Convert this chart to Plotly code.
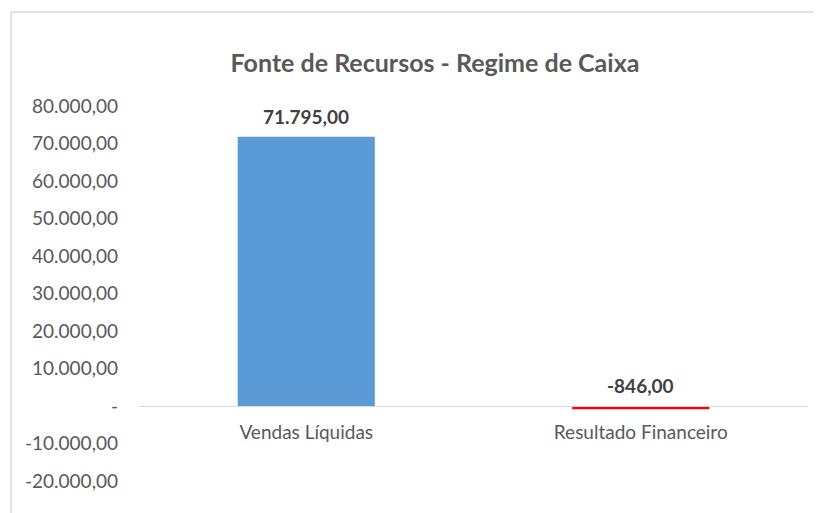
import plotly.graph_objects as go

categories = ["Vendas Líquidas", "Resultado Financeiro"]
values = [71795.00, -846.00]
bar_colors = ["#5B9BD5", "#FF0000"]
value_labels = ["71.795,00", "-846,00"]
tick_values = [-20000, -10000, 0, 10000, 20000, 30000, 40000, 50000, 60000, 70000, 80000]
tick_labels = ["-20.000,00", "-10.000,00", "-", "10.000,00", "20.000,00", "30.000,00",
               "40.000,00", "50.000,00", "60.000,00", "70.000,00", "80.000,00"]
title_text = "Fonte de Recursos - Regime de Caixa"

# The page body has an 8px margin; shrink the figure and shift positions to compensate.
OFF = 8
W, H = 821 - OFF, 513 - OFF


def px_x(x):
    return (x - OFF) / W


def px_y(y):
    return (H - (y - OFF)) / H


y_range = [-20000, 80000]
x_dom = [px_x(139), px_x(808)]
y_dom = [px_y(481), px_y(106)]
zero_pos = y_dom[0] + (0 - y_range[0]) / (y_range[1] - y_range[0]) * (y_dom[1] - y_dom[0])

FONT = "Lato"
GRAY = "#595959"

fig = go.Figure()
fig.add_trace(go.Bar(
    x=categories, y=values,
    marker=dict(color=bar_colors, line=dict(width=0)),
    hoverinfo="skip",
))

for c, v, t in zip(categories, values, value_labels):
    fig.add_annotation(
        x=c, y=max(v, 0), text=f"<b>{t}</b>", showarrow=False,
        yanchor="bottom", yshift=7,
        font=dict(family=FONT, size=19, color="#404040"),
    )

fig.update_layout(
    template="none",
    width=W, height=H,
    margin=dict(l=0, r=0, t=0, b=0),
    paper_bgcolor="white", plot_bgcolor="white",
    showlegend=False,
    bargap=0.59,
    title=dict(
        text=f"<b>{title_text}</b>", xref="container", yref="container",
        x=px_x(435), xanchor="center", y=px_y(63), yanchor="middle",
        font=dict(family=FONT, size=25, color=GRAY),
    ),
    xaxis=dict(
        domain=x_dom, anchor="free", position=zero_pos,
        showline=True, linecolor="#D9D9D9", linewidth=1,
        ticks="", showgrid=False, zeroline=False, automargin=False,
        ticklabelstandoff=9,
        tickfont=dict(family=FONT, size=19, color=GRAY),
        fixedrange=True,
    ),
    yaxis=dict(
        domain=y_dom, range=y_range,
        tickvals=tick_values, ticktext=tick_labels,
        showline=False, ticks="", showgrid=False, zeroline=False, automargin=False,
        ticklabelstandoff=20,
        tickfont=dict(family=FONT, size=19, color=GRAY),
        fixedrange=True,
    ),
    shapes=[
        dict(type="line", xref="paper", yref="paper", x0=px_x(11), x1=px_x(11),
             y0=0, y1=px_y(12), line=dict(color="#D9D9D9", width=1.5)),
        dict(type="line", xref="paper", yref="paper", x0=px_x(11), x1=1,
             y0=px_y(12), y1=px_y(12), line=dict(color="#D9D9D9", width=1.5)),
    ],
)

fig.write_html("out.html")
